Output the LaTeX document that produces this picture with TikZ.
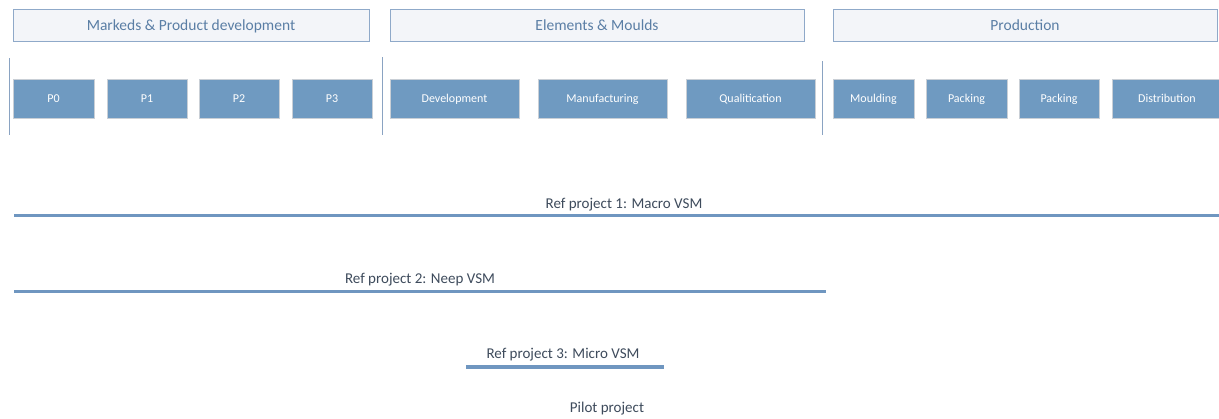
\documentclass[tikz,border=0pt]{standalone}
\usepackage{fontspec}
\setmainfont{Carlito}
\definecolor{boxfill}{HTML}{6F9AC1}
\definecolor{boxedge}{HTML}{C9CFD6}
\definecolor{hdrfill}{HTML}{F3F5F9}
\definecolor{hdredge}{HTML}{8FA9C9}
\definecolor{hdrtext}{HTML}{5A7EA5}
\definecolor{barcol}{HTML}{6F96C0}
\definecolor{labtext}{HTML}{3E4B5C}
\definecolor{sepcol}{HTML}{8AA3C2}
\begin{document}
\begin{tikzpicture}[x=1pt,y=-1pt,
  hdr/.style={draw=hdredge,fill=hdrfill,line width=0.9pt,minimum height=32pt,inner sep=0pt,
    text=hdrtext,font=\fontsize{15.5}{17}\selectfont,text height=12pt,text depth=2pt},
  stepbox/.style={draw=boxedge,fill=boxfill,line width=0.8pt,minimum height=39pt,inner sep=0pt,
    text=white,font=\fontsize{12}{14}\selectfont,text height=9.7pt,text depth=2pt},
  sep/.style={draw=sepcol,line width=1pt},
  bar/.style={draw=barcol,line width=3.5pt},
  lab/.style={text=labtext,font=\fontsize{15}{17}\selectfont,inner sep=0pt,text height=11.6pt,text depth=2pt}]
\useasboundingbox (0,0) rectangle (1219,418);
\fill[white] (0,0) rectangle (1219,418);
% headers
\node[hdr,minimum width=356pt] (h1) at (191,25) {Markeds \& Product development};
\node[hdr,minimum width=414pt] (h2) at (597,25) {Elements \& Moulds};
\node[hdr,minimum width=384pt] (h3) at (1025,25) {Production};
% separators
\coordinate (s1t) at (9,58); \coordinate (s1b) at (9,135);
\coordinate (s2t) at (382,57); \coordinate (s2b) at (382,135);
\coordinate (s3t) at (822,61); \coordinate (s3b) at (822,135);
\draw[sep] (s1t) -- (s1b);
\draw[sep] (s2t) -- (s2b);
\draw[sep] (s3t) -- (s3b);
% step boxes
\node[stepbox,minimum width=81pt] (p0) at (53.5,98.5) {P0};
\node[stepbox,minimum width=80pt] (p1) at (147,98.5) {P1};
\node[stepbox,minimum width=80pt] (p2) at (239,98.5) {P2};
\node[stepbox,minimum width=80pt] (p3) at (332,98.5) {P3};
\node[stepbox,minimum width=129pt] (dev) at (454.5,98.5) {Development};
\node[stepbox,minimum width=129pt] (man) at (602.5,98.5) {Manufacturing};
\node[stepbox,minimum width=129pt] (qual) at (750.5,98.5) {Qualitication};
\node[stepbox,minimum width=81pt] (mould) at (873.5,98.5) {Moulding};
\node[stepbox,minimum width=81pt] (pack1) at (966.5,98.5) {Packing};
\node[stepbox,minimum width=80pt] (pack2) at (1059,98.5) {Packing};
\node[stepbox,minimum width=110pt] (dist) at (1167,98.5) {Distribution};
% project bars
\coordinate (r1a) at (14,215.5); \coordinate (r1b) at (1222,215.5);
\draw[bar] (r1a) -- (r1b);
\node[lab] (l1) at (624,204) {Ref project 1: Macro VSM};
\coordinate (r2a) at (14,291.5); \coordinate (r2b) at (826,291.5);
\draw[bar] (r2a) -- (r2b);
\node[lab] (l2) at (420,279) {Ref project 2: Neep VSM};
\coordinate (r3a) at (466,367); \coordinate (r3b) at (664,367);
\draw[bar] (r3a) -- (r3b);
\node[lab] (l3) at (563,354) {Ref project 3: Micro VSM};
\node[lab] (pilot) at (607,408) {Pilot project};
\end{tikzpicture}
\end{document}
